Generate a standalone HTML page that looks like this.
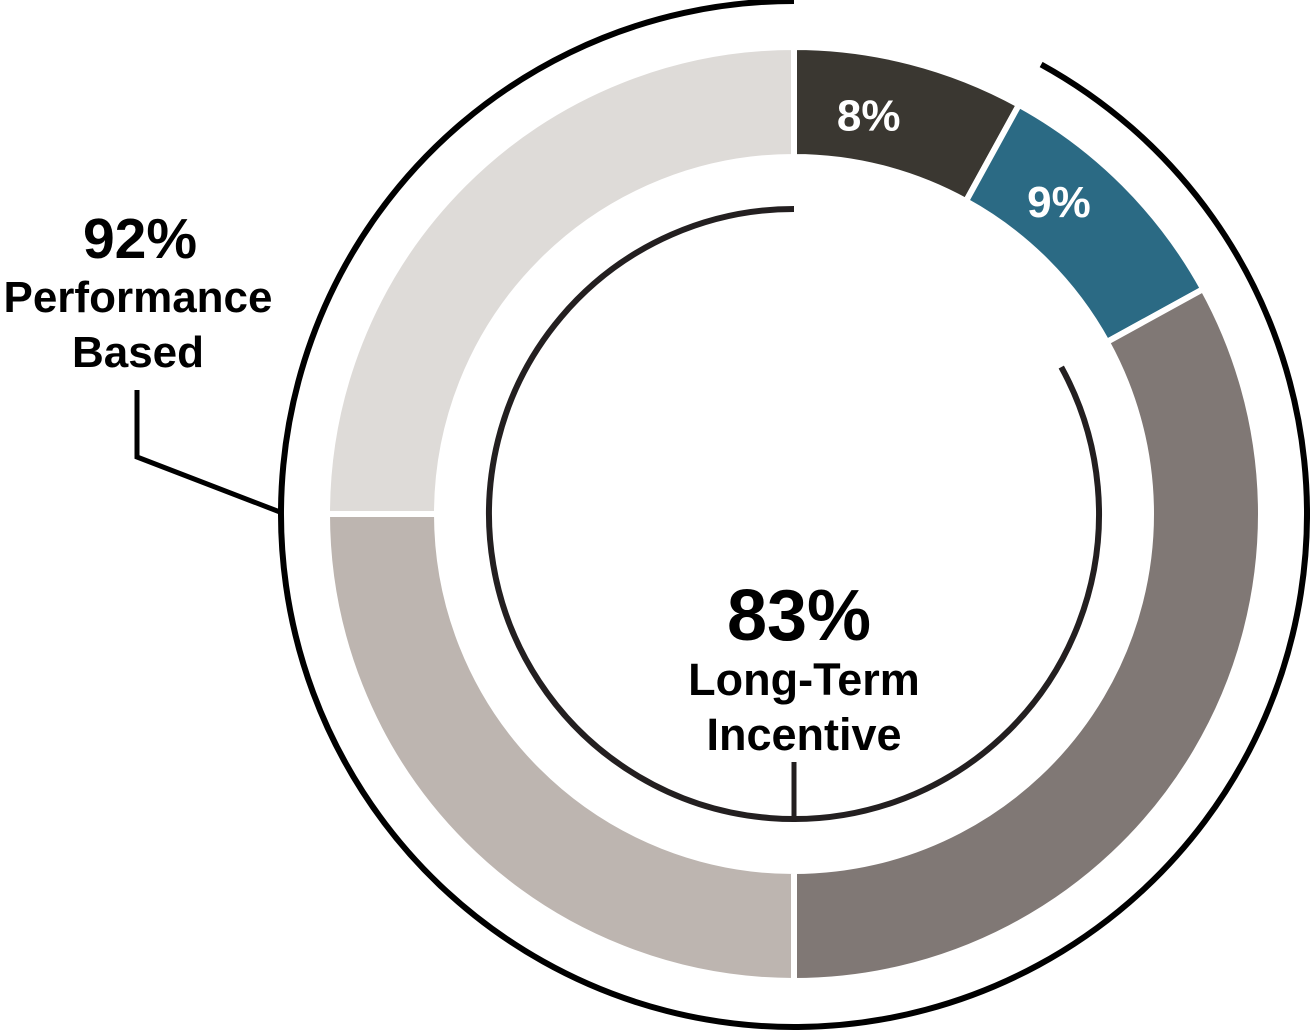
<!DOCTYPE html>
<html><head><meta charset="utf-8"><style>
html,body{margin:0;padding:0;background:#fff;}
svg{display:block;}
text{font-family:"Liberation Sans",Arial,sans-serif;font-weight:bold;}
</style></head><body>
<svg id="chart" width="1310" height="1031" viewBox="0 0 1310 1031" xmlns="http://www.w3.org/2000/svg">
<g id="slices"></g>
<g id="rings"></g>
<polyline points="280,512 137,457 137,390" fill="none" stroke="#000" stroke-width="5"/>
<line x1="794" y1="822" x2="794" y2="762" stroke="#231f20" stroke-width="5"/>
<text x="140" y="258" font-size="57" text-anchor="middle" fill="#000">92%</text>
<text x="138" y="312" font-size="44" text-anchor="middle" fill="#000">Performance</text>
<text x="138" y="367" font-size="44" text-anchor="middle" fill="#000">Based</text>
<text x="799" y="640" font-size="72" text-anchor="middle" fill="#000">83%</text>
<text x="804" y="695" font-size="45" text-anchor="middle" fill="#000">Long-Term</text>
<text x="804" y="750" font-size="45" text-anchor="middle" fill="#000">Incentive</text>
</svg>
<script>
const categories = ['Base Salary','Annual Incentive','PSU','RSU','Options'];
const values = [8, 9, 33, 25, 25];
const labels = ['8%','9%','','',''];
const colors = ['#3a3731','#2b6a84','#807875','#bdb5b0','#dedbd8'];
const outerBracket = [8, 100];
const innerBracket = [17, 100];

const cx=794, cy=514, R=467, r=357;
const NS='http://www.w3.org/2000/svg';
function ang(p){return p/100*2*Math.PI;}
function pt(p,rad){const a=ang(p);return [cx+rad*Math.sin(a), cy-rad*Math.cos(a)];}
function arcPath(p0,p1,ro,ri){
  const large=(p1-p0)>50?1:0;
  const a=pt(p0,ro),b=pt(p1,ro),c=pt(p1,ri),d=pt(p0,ri);
  return `M${a[0]},${a[1]} A${ro},${ro} 0 ${large} 1 ${b[0]},${b[1]} L${c[0]},${c[1]} A${ri},${ri} 0 ${large} 0 ${d[0]},${d[1]} Z`;
}
function strokeArc(p0,p1,rad){
  const large=(p1-p0)>50?1:0;
  const a=pt(p0,rad),b=pt(p1,rad);
  return `M${a[0]},${a[1]} A${rad},${rad} 0 ${large} 1 ${b[0]},${b[1]}`;
}
const gs=document.getElementById('slices');
const total=values.reduce((s,v)=>s+v,0);
let acc=0;
values.forEach((v,i)=>{
  const p0=acc/total*100, p1=(acc+v)/total*100;
  const path=document.createElementNS(NS,'path');
  path.setAttribute('d',arcPath(p0,p1,R,r));
  path.setAttribute('fill',colors[i]);
  path.setAttribute('stroke','#fff');
  path.setAttribute('stroke-width','6');
  
  
  gs.appendChild(path);
  if(labels[i]){
    const m=pt(p0+(p1-p0)*0.33,404);
    const t=document.createElementNS(NS,'text');
    t.setAttribute('x',m[0]+8); t.setAttribute('y',m[1]+15);
    t.setAttribute('font-size','44'); t.setAttribute('fill','#fff');
    t.setAttribute('text-anchor','middle');
    
    
    t.textContent=labels[i];
    gs.appendChild(t);
  }
  acc+=v;
});
const gr=document.getElementById('rings');
const o=document.createElementNS(NS,'path');
o.setAttribute('d',strokeArc(outerBracket[0],outerBracket[1],513));
o.setAttribute('fill','none');o.setAttribute('stroke','#000');o.setAttribute('stroke-width','6');


gr.appendChild(o);
const n=document.createElementNS(NS,'path');
n.setAttribute('d',strokeArc(innerBracket[0],innerBracket[1],305));
n.setAttribute('fill','none');n.setAttribute('stroke','#231f20');n.setAttribute('stroke-width','6');


gr.appendChild(n);
</script>
</body></html>
